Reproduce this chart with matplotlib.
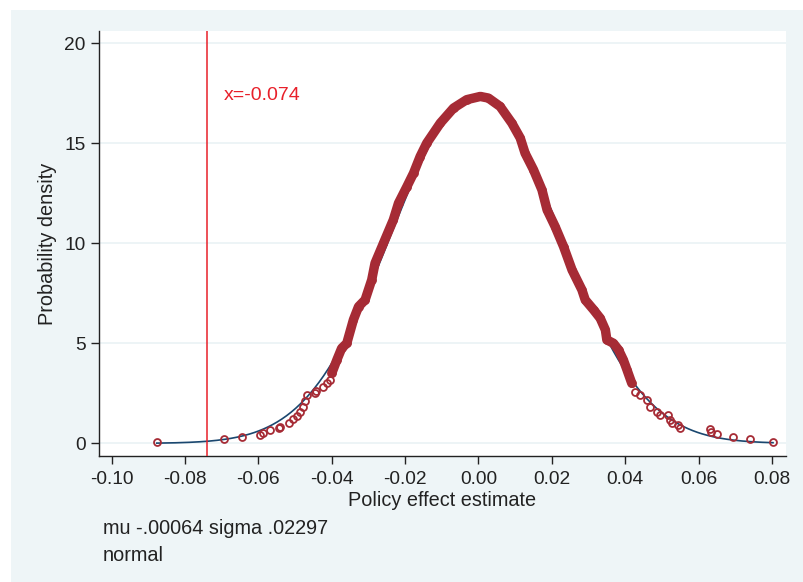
import numpy as np
import matplotlib
matplotlib.use('Agg')
import matplotlib.pyplot as plt
from matplotlib.patches import Rectangle

# Estimaciones del efecto (x) y densidad kernel en cada punto (y)
est_x = [-0.0877, -0.0693, -0.0644, -0.0595, -0.0588, -0.0567, -0.0544, -0.0541,
         -0.0517, -0.0505, -0.0495, -0.0486, -0.0479, -0.0473, -0.0468, -0.0445,
         -0.0443, -0.0423, -0.0413, -0.0404, -0.0400, -0.0386, -0.0373, -0.0359,
         -0.0341, -0.0327, -0.0309, -0.0291, -0.0282, -0.0259, -0.0232, -0.0218,
         -0.0195, -0.0177, -0.0159, -0.0141, -0.0104, -0.0068, -0.0032, 0.0005,
         0.0027, 0.0059, 0.0091, 0.0114, 0.0127, 0.0150, 0.0173, 0.0187,
         0.0209, 0.0232, 0.0255, 0.0282, 0.0291, 0.0314, 0.0332, 0.0346,
         0.0350, 0.0368, 0.0382, 0.0395, 0.0405, 0.0418, 0.0427, 0.0441,
         0.0459, 0.0468, 0.0487, 0.0496, 0.0518, 0.0523, 0.0527, 0.0545,
         0.0550, 0.0632, 0.0634, 0.0650, 0.0695, 0.0741, 0.0803]
dens_y = [0.07, 0.20, 0.33, 0.43, 0.53, 0.67, 0.75, 0.82,
          1.00, 1.20, 1.37, 1.58, 1.83, 2.13, 2.42, 2.50,
          2.63, 2.80, 3.00, 3.17, 3.50, 4.17, 4.75, 5.00,
          6.17, 6.83, 7.17, 8.17, 9.00, 10.00, 11.17, 12.00,
          12.83, 13.50, 14.33, 15.00, 16.00, 16.75, 17.17, 17.33,
          17.25, 16.83, 16.00, 15.25, 14.50, 13.67, 12.67, 11.67,
          10.83, 9.83, 8.67, 7.67, 7.17, 6.67, 6.25, 5.67,
          5.17, 5.00, 4.67, 4.17, 3.67, 3.00, 2.58, 2.42,
          2.17, 1.83, 1.58, 1.42, 1.42, 1.17, 1.00, 0.92,
          0.75, 0.70, 0.58, 0.47, 0.33, 0.20, 0.07]

# Parametros de la normal ajustada
mu = -0.00064
sigma = 0.02297
x_line = -0.074

x_ticks = [-0.10, -0.08, -0.06, -0.04, -0.02, 0.00, 0.02, 0.04, 0.06, 0.08]
y_ticks = [0, 5, 10, 15, 20]

W, H = 804, 582
bg = '#EEF5F7'
maroon = '#A62B35'
navy = '#1A476F'
red = '#E8202A'
txt = '#222222'

plt.rcParams['font.family'] = ['Liberation Sans', 'DejaVu Sans']

fig = plt.figure(figsize=(W / 100, H / 100), dpi=100, facecolor='white')
fig.patches.append(Rectangle((11 / W, 0), 1 - 11 / W, 1 - 10 / H, transform=fig.transFigure,
                             facecolor=bg, edgecolor='none', zorder=-10))

ax = fig.add_axes([99 / W, 1 - 456 / H, (786 - 99) / W, (456 - 31) / H])
ax.set_facecolor('white')

# Normal ajustada
xs = np.array(est_x)
xn = np.linspace(xs.min(), xs.max(), 400)
yn = np.exp(-0.5 * ((xn - mu) / sigma) ** 2) / (sigma * np.sqrt(2 * np.pi))
ax.plot(xn, yn, color=navy, lw=1.2, zorder=2)

# Banda densa de puntos en el centro
ys = np.array(dens_y)
dense = (xs >= -0.0400) & (xs <= 0.0418)
ax.plot(xs[dense], ys[dense], color=maroon, lw=6.8, solid_capstyle='round',
        solid_joinstyle='round', zorder=3)
ax.plot(xs, ys, linestyle='none', marker='o', ms=5.0, mew=1.3, mfc='none',
        mec=maroon, zorder=4)

# Linea vertical de referencia
ax.axvline(x_line, color=red, lw=1.1, zorder=5)
ax.text(-0.0694, 17.4, 'x=-0.074', color=red, fontsize=14, ha='left', va='center')

ax.set_xlim(-0.10345, 0.08384)
ax.set_ylim(-0.63, 20.6)
ax.set_xticks(x_ticks)
ax.set_xticklabels(['%.2f' % t for t in x_ticks])
ax.set_yticks(y_ticks)
ax.set_yticklabels([str(t) for t in y_ticks])
ax.tick_params(axis='both', labelsize=13.8, colors=txt, length=6, width=1, pad=4.5)
ax.tick_params(axis='y', pad=3.5)
for t in y_ticks:
    ax.axhline(t, color='#EAF2F5', lw=1.2, zorder=0)

for s in ['top', 'right']:
    ax.spines[s].set_visible(False)
for s in ['left', 'bottom']:
    ax.spines[s].set_color(txt)
    ax.spines[s].set_linewidth(1.0)

# Titulos y notas
fig.text(53 / W, 1 - 243.5 / H, 'Probability density', rotation=90, rotation_mode='anchor',
         ha='center', va='baseline', fontsize=14.3, color=txt)
fig.text(442.5 / W, 1 - 506 / H, 'Policy effect estimate', ha='center', va='baseline',
         fontsize=14.3, color=txt)
fig.text(102.7 / W, 1 - 534 / H, 'mu -.00064 sigma .02297', ha='left', va='baseline',
         fontsize=14.3, color=txt)
fig.text(102.7 / W, 1 - 561 / H, 'normal', ha='left', va='baseline',
         fontsize=14.3, color=txt)

fig.savefig('out.png', dpi=100, facecolor='white')
